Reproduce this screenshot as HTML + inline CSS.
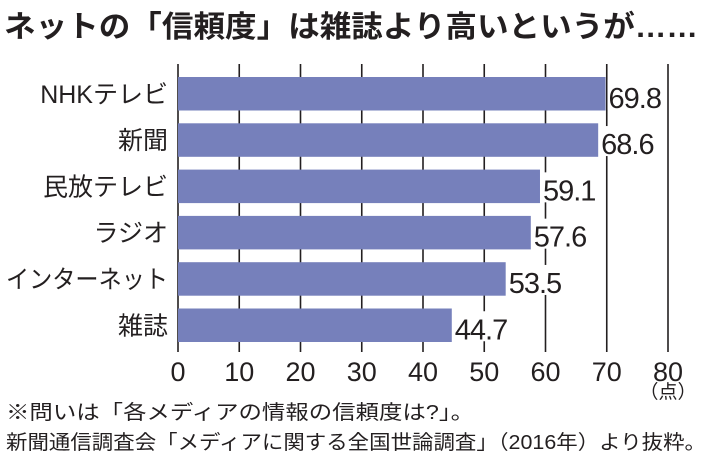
<!DOCTYPE html>
<html><head><meta charset="utf-8"><style>
body{margin:0;background:#fff;}
svg text{font-family:"Liberation Sans","Noto Sans CJK JP",sans-serif;fill:#231f20;}
</style></head><body>
<svg id="chart" width="710" height="468" viewBox="0 0 710 468" xmlns="http://www.w3.org/2000/svg">
<text x="4" y="37" font-size="30" font-weight="bold" textLength="694" lengthAdjust="spacingAndGlyphs">ネットの「信頼度」は雑誌より高いというが……</text>
<g id="grid"></g><g id="bars"></g><g id="labels"></g>
<text x="668" y="398" font-size="19" text-anchor="middle">（点）</text>
<text x="6" y="419" font-size="20" textLength="468" lengthAdjust="spacingAndGlyphs">※問いは「各メディアの情報の信頼度は?」。</text>
<text x="6" y="449" font-size="20" textLength="700" lengthAdjust="spacingAndGlyphs">新聞通信調査会「メディアに関する全国世論調査」（2016年）より抜粋。</text>
</svg>
<script>
const categories=["NHKテレビ","新聞","民放テレビ","ラジオ","インターネット","雑誌"];
const values=[69.8,68.6,59.1,57.6,53.5,44.7];
const valueLabels=["69.8","68.6","59.1","57.6","53.5","44.7"];
const ticks=[0,10,20,30,40,50,60,70,80];
const NS="http://www.w3.org/2000/svg";
const x=v=>178+v*(668-178)/80;
const rowTop=i=>77+i*46.3;
const barH=33.5;
function mk(tag,attrs,parent,txt){const e=document.createElementNS(NS,tag);for(const k in attrs)e.setAttribute(k,attrs[k]);if(txt!==undefined)e.textContent=txt;document.getElementById(parent).appendChild(e);return e;}
ticks.forEach(t=>{
  const l=mk('line',{x1:x(t),x2:x(t),y1:64,y2:352,stroke:'#231f20','stroke-width':1.6},'grid');
  
  
  const tx=mk('text',{x:x(t),y:381,'font-size':27,'text-anchor':'middle'},'grid',String(t));
  
  
});
categories.forEach((c,i)=>{
  const r=mk('rect',{x:x(0),y:rowTop(i),width:x(values[i])-x(0),height:barH,fill:'#7680bb'},'bars');
  
  
  const cy=rowTop(i)+barH/2;
  const attrs={x:168,y:cy+9,'font-size':25,'text-anchor':'end'};
  if(c.length>6){attrs['textLength']=162;attrs['lengthAdjust']='spacingAndGlyphs';}
  const cl=mk('text',attrs,'labels',c);
  
  
  const bg=mk('rect',{x:x(values[i])+2,y:cy-14,width:58,height:30,fill:'#fff'},'labels');
  
  
  const vl=mk('text',{x:x(values[i])+3,y:cy+14,'font-size':29,'letter-spacing':-1},'labels',valueLabels[i]);
  
  
});
</script>
</body></html>
